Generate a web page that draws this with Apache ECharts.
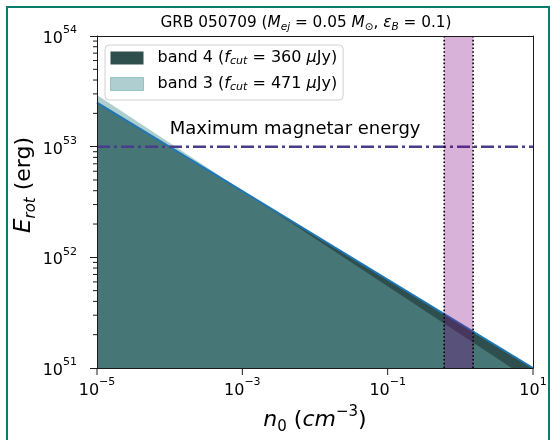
<!DOCTYPE html>
<html>
<head>
<meta charset="utf-8">
<script src="https://cdn.jsdelivr.net/npm/echarts@6/dist/echarts.min.js"></script>
<style>
  html, body { margin: 0; padding: 0; background: #fff; }
  #frame { position: absolute; left: 6px; top: 6px; width: 540px; height: 440px;
           border: 2px solid #0b7b6b; border-bottom: none; }
  #chart { position: absolute; left: 0; top: 0; width: 552px; height: 440px; }
</style>
</head>
<body>
<div id="frame"></div>
<div id="chart"></div>
<script>
// Axis limits
const densityRange = [1e-5, 10];      // n0 (cm^-3)
const energyRange = [1e51, 1e54];     // E_rot (erg)

// Allowed rotational energy, upper edge of each band: [n0, E_rot]
const band4Density = [1e-5, 10];
const band4Energy = [2.5e53, 1e51];
const band3Density = [1e-5, 5.1];
const band3Energy = [2.93e53, 1e51];

// Maximum magnetar energy
const maxMagnetarEnergy = 1e53;
const maxMagnetarLabel = 'Maximum magnetar energy';
const maxMagnetarLabelAt = [1e-4, 1.2e53];

// Density interval from afterglow modelling
const densityInterval = [0.6, 1.5];

// Tick positions
const xMajorTicks = [1e-5, 1e-3, 1e-1, 10];
const yDecades = [51, 52, 53];
const yMinorMantissas = [2, 3, 4, 5, 6, 7, 8, 9];

const legendLabels = {
  'band 4': '{t|band 4 (}{i|f}{sub|cut}{t| = 360 }{i|\u03bc}{t|Jy)}',
  'band 3': '{t|band 3 (}{i|f}{sub|cut}{t| = 471 }{i|\u03bc}{t|Jy)}'
};

const FONT = 'DejaVu Sans';

const yMinorTicks = [];
yDecades.forEach(d => yMinorMantissas.forEach(m => yMinorTicks.push(m * Math.pow(10, d))));

function powerLabel(v) {
  const e = Math.round(Math.log10(v));
  return '{b|10}{s|' + String(e).replace('-', '\u2212') + '}';
}
const powerRich = {
  b: { fontFamily: FONT, fontSize: 16, color: '#000', lineHeight: 22, verticalAlign: 'bottom' },
  s: { fontFamily: FONT, fontSize: 11, color: '#000', lineHeight: 12, verticalAlign: 'top' }
};

const chart = echarts.init(document.getElementById('chart'), null, { renderer: 'canvas' });

const spine = { show: true, lineStyle: { color: '#1a1a1a', width: 1 } };

const option = {
  animation: false,
  backgroundColor: 'transparent',
  title: {
    text: '{t|GRB 050709 (}{i|M}{sub|ej}{t| = 0.05 }{i|M}{sub|\u2299}{t|, }{i|\u03b5}{sub|B}{t| = 0.1)}',
    left: 301,
    textAlign: 'center',
    top: 8,
    textStyle: {
      fontWeight: 'normal',
      rich: {
        t: { fontFamily: FONT, fontSize: 15.3, fontWeight: 'normal', color: '#000', lineHeight: 20, verticalAlign: 'middle' },
        i: { fontFamily: FONT, fontSize: 15.3, fontWeight: 'normal', fontStyle: 'italic', color: '#000', lineHeight: 20, verticalAlign: 'middle' },
        sub: { fontFamily: FONT, fontSize: 10.5, fontWeight: 'normal', fontStyle: 'italic', color: '#000', lineHeight: 9, verticalAlign: 'bottom' }
      }
    }
  },
  legend: {
    data: [
      { name: 'band 4', itemStyle: { color: '#2f4f4f', borderWidth: 0 } },
      { name: 'band 3', itemStyle: { color: '#afcecf', borderColor: '#97c2c3', borderWidth: 1 } }
    ],
    orient: 'vertical',
    left: 105,
    top: 45,
    icon: 'rect',
    itemWidth: 33,
    itemHeight: 13,
    itemGap: 9,
    padding: [5, 6, 7, 5],
    backgroundColor: 'rgba(255,255,255,0.8)',
    borderColor: '#d0d0d0',
    borderWidth: 1,
    borderRadius: 4,
    formatter: name => legendLabels[name],
    textStyle: {
      padding: [0, 0, 0, 9],
      rich: {
        t: { fontFamily: FONT, fontSize: 16, color: '#000', lineHeight: 18, verticalAlign: 'middle' },
        i: { fontFamily: FONT, fontSize: 16, fontStyle: 'italic', color: '#000', lineHeight: 18, verticalAlign: 'middle' },
        sub: { fontFamily: FONT, fontSize: 11, fontStyle: 'italic', color: '#000', lineHeight: 8, verticalAlign: 'bottom' }
      }
    }
  },
  grid: { left: 97, right: 19, top: 36, bottom: 72, containLabel: false, outerBoundsMode: 'none' },
  xAxis: [
    {
      type: 'log', logBase: 10, min: densityRange[0], max: densityRange[1],
      position: 'bottom', z: 10,
      axisLine: spine,
      axisTick: { show: false },
      splitLine: { show: false },
      axisLabel: {
        margin: 9,
        formatter: v => (Math.abs(Math.round(Math.log10(v))) % 2 === 1 ? powerLabel(v) : ''),
        rich: powerRich
      },
      name: '{i|n}{sub|0}{t| (}{i|cm}{sup|\u22123}{t|)}',
      nameLocation: 'middle',
      nameGap: 37,
      nameMoveOverlap: false,
      nameTextStyle: {
        rich: {
          t: { fontFamily: FONT, fontSize: 22, color: '#000', lineHeight: 30, verticalAlign: 'middle' },
          i: { fontFamily: FONT, fontSize: 22, fontStyle: 'italic', color: '#000', lineHeight: 30, verticalAlign: 'middle' },
          sub: { fontFamily: FONT, fontSize: 15, color: '#000', lineHeight: 13, verticalAlign: 'bottom' },
          sup: { fontFamily: FONT, fontSize: 15, color: '#000', lineHeight: 13, verticalAlign: 'top' }
        }
      }
    },
    {
      type: 'log', logBase: 10, min: densityRange[0], max: densityRange[1],
      position: 'top', z: 10,
      axisLine: spine, axisTick: { show: false }, axisLabel: { show: false }, splitLine: { show: false }
    }
  ],
  yAxis: [
    {
      type: 'log', logBase: 10, min: energyRange[0], max: energyRange[1],
      position: 'left', z: 10,
      axisLine: spine,
      axisTick: { show: true, length: 7, inside: false, lineStyle: { color: '#1a1a1a', width: 1 } },
      splitLine: { show: false },
      axisLabel: { margin: 20, formatter: powerLabel, rich: powerRich },
      name: '{i|E}{sub|rot}{t| (erg)}',
      nameLocation: 'middle',
      nameRotate: 90,
      nameGap: 58,
      nameMoveOverlap: false,
      nameTextStyle: {
        padding: [0, 0, 0, 34],
        rich: {
          t: { fontFamily: FONT, fontSize: 22, color: '#000', lineHeight: 30, verticalAlign: 'middle' },
          i: { fontFamily: FONT, fontSize: 23, fontStyle: 'italic', color: '#000', lineHeight: 30, verticalAlign: 'middle' },
          sub: { fontFamily: FONT, fontSize: 15, fontStyle: 'italic', color: '#000', lineHeight: 13, verticalAlign: 'bottom' }
        }
      }
    },
    {
      type: 'log', logBase: 10, min: energyRange[0], max: energyRange[1],
      position: 'right', z: 10,
      axisLine: spine, axisTick: { show: false }, axisLabel: { show: false }, splitLine: { show: false }
    }
  ],
  series: [
    {
      name: 'band 4', type: 'line', z: 2,
      data: band4Density.map((n, i) => [n, band4Energy[i]]),
      symbol: 'none', silent: true,
      lineStyle: { width: 0 },
      itemStyle: { color: '#2f4f4f' },
      areaStyle: { color: '#2f4f4f', opacity: 1, origin: 'start' }
    },
    {
      name: 'band 3', type: 'line', z: 3,
      data: band3Density.map((n, i) => [n, band3Energy[i]]),
      symbol: 'none', silent: true,
      lineStyle: { width: 0 },
      itemStyle: { color: '#5f9ea0' },
      areaStyle: { color: '#5f9ea0', opacity: 0.5, origin: 'start' }
    },
    {
      name: 'band 4 edge', type: 'line', z: 4,
      data: band4Density.map((n, i) => [n, band4Energy[i]]),
      symbol: 'none', silent: true,
      lineStyle: { color: '#1f77b4', width: 2 }
    },
    {
      name: 'max magnetar', type: 'line', z: 5,
      data: densityRange.map(n => [n, maxMagnetarEnergy]),
      symbol: 'none', silent: true,
      lineStyle: { color: '#483d8b', width: 2.5, type: [13, 4, 3, 4] }
    },
    {
      name: 'max magnetar label', type: 'scatter', z: 5,
      data: [maxMagnetarLabelAt],
      symbolSize: 0, silent: true,
      itemStyle: { opacity: 1 },
      label: {
        show: true, position: [0, 0], align: 'left', verticalAlign: 'bottom',
        formatter: maxMagnetarLabel,
        fontFamily: FONT, fontSize: 18, color: '#000', opacity: 1
      }
    },
    {
      name: 'density interval', type: 'custom', z: 6, silent: true, clip: true,
      data: [densityInterval],
      renderItem: (params, api) => {
        const p0 = api.coord([api.value(0), energyRange[1]]);
        const p1 = api.coord([api.value(1), energyRange[0]]);
        const dotted = { stroke: '#000', lineWidth: 1.6, lineDash: [1.6, 2.2], fill: null };
        return {
          type: 'group',
          children: [
            { type: 'rect', shape: { x: p0[0], y: p0[1], width: p1[0] - p0[0], height: p1[1] - p0[1] },
              style: { fill: 'rgba(128,0,128,0.3)' } },
            { type: 'line', shape: { x1: p0[0], y1: p0[1], x2: p0[0], y2: p1[1] }, style: dotted },
            { type: 'line', shape: { x1: p1[0], y1: p0[1], x2: p1[0], y2: p1[1] }, style: dotted }
          ]
        };
      }
    },
    {
      name: 'y minor ticks', type: 'custom', z: 10, silent: true, clip: false,
      data: yMinorTicks.map(v => [densityRange[0], v]),
      renderItem: (params, api) => {
        const p = api.coord([api.value(0), api.value(1)]);
        return { type: 'line', shape: { x1: p[0] - 4, y1: p[1], x2: p[0], y2: p[1] },
                 style: { stroke: '#1a1a1a', lineWidth: 1 } };
      }
    },
    {
      name: 'x major ticks', type: 'custom', z: 10, silent: true, clip: false,
      data: xMajorTicks.map(v => [v, energyRange[0]]),
      renderItem: (params, api) => {
        const p = api.coord([api.value(0), api.value(1)]);
        return { type: 'line', shape: { x1: p[0], y1: p[1], x2: p[0], y2: p[1] + 7 },
                 style: { stroke: '#1a1a1a', lineWidth: 1 } };
      }
    }
  ]
};

chart.setOption(option);
</script>
</body>
</html>
